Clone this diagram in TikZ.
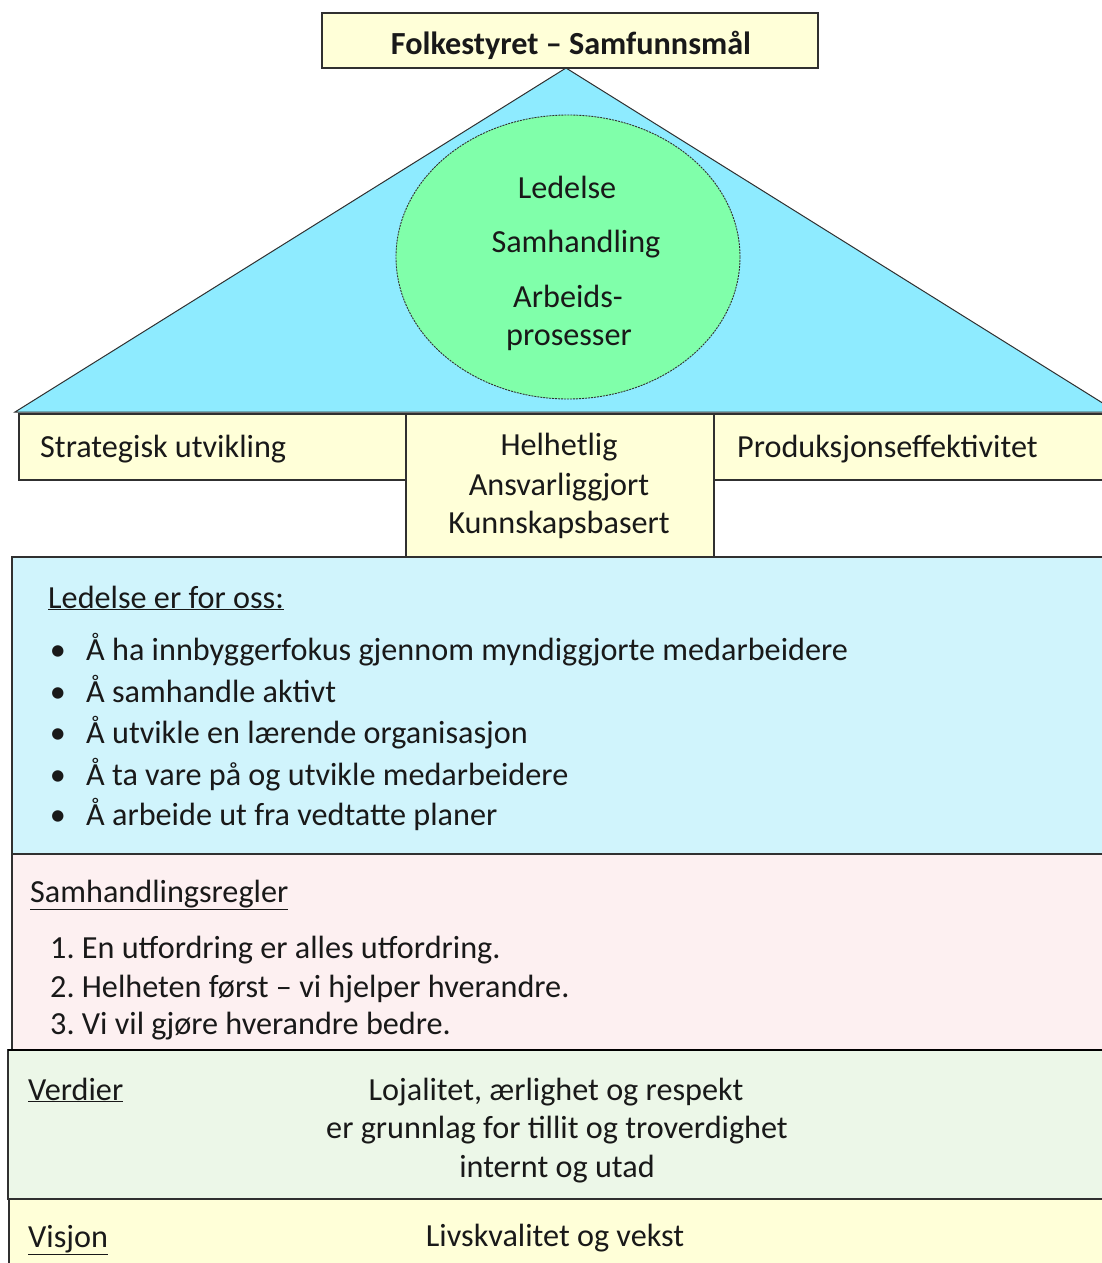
\documentclass[tikz,border=0pt]{standalone}
\usepackage{fontspec}
\setmainfont{Carlito}
\definecolor{cyanroof}{HTML}{8EEBFF}
\definecolor{greenell}{HTML}{80FFAA}
\definecolor{lightyel}{HTML}{FFFFD8}
\definecolor{lightblu}{HTML}{D0F4FC}
\definecolor{lightpink}{HTML}{FDF0F1}
\definecolor{lightgrn}{HTML}{ECF7E8}
\definecolor{edgecol}{HTML}{303030}
\begin{document}
\begin{tikzpicture}[x=1pt,y=-1pt,
  panel/.style={draw=edgecol, line width=1.3pt},
  txtl/.style={font=\fontsize{32.2}{38}\selectfont, inner sep=0pt, anchor=base west, text=black!90},
  txtc/.style={font=\fontsize{32.2}{38}\selectfont, inner sep=0pt, anchor=base, text=black!90},
]
\useasboundingbox (0,0) rectangle (1102,1263);
\clip (0,0) rectangle (1102,1263);
% roof
\coordinate (apex) at (566,68);
\coordinate (bl) at (15,412);
\coordinate (br) at (1117,412);
\draw[panel, fill=cyanroof, line width=1pt] (bl) -- (apex) -- (br) -- cycle;
% ellipse
\draw[fill=greenell, draw=edgecol, line width=0.9pt, dash pattern=on 2pt off 1pt] (568,257) ellipse [x radius=172, y radius=142];
\node[txtc] (e1) at (567,198) {Ledelse};
\node[txtc] (e2) at (576,252) {Samhandling};
\node[txtc] (e3) at (568,307) {Arbeids-};
\node[txtc] (e4) at (569,345) {prosesser};
% title
\draw[panel, fill=lightyel] (322,13) rectangle (818,68);
\node[txtc, font=\fontsize{32.2}{38}\selectfont\bfseries] (title) at (571,55) {Folkestyret – Samfunnsmål};
% pillars
\draw[panel, fill=lightyel] (19,414) rectangle (406,480);
\node[txtl] (strat) at (40,457) {Strategisk utvikling};
\draw[panel, fill=lightyel] (714,414) rectangle (1110,480);
\node[txtl] (prod) at (737,457) {Produksjonseffektivitet};
\draw[panel, fill=lightyel] (406,414) rectangle (714,557);
\node[txtc] (m1) at (559,455) {Helhetlig};
\node[txtc] (m2) at (559,495) {Ansvarliggjort};
\node[txtc] (m3) at (559,533) {Kunnskapsbasert};
% Ledelse box
\draw[panel, fill=lightblu] (12,557) rectangle (1110,854);
\node[txtl] (lh) at (48,608) {\underline{Ledelse er for oss:}};
\foreach \y/\t [count=\i] in {660/{Å ha innbyggerfokus gjennom myndiggjorte medarbeidere},
  702/{Å samhandle aktivt},
  743/{Å utvikle en lærende organisasjon},
  785/{Å ta vare på og utvikle medarbeidere},
  825/{Å arbeide ut fra vedtatte planer}}{
  \node[txtc] (b\i) at (58,\y) {•};
  \node[txtl] (l\i) at (86,\y) {\t};
}
% Samhandlingsregler
\draw[panel, fill=lightpink] (12,854) rectangle (1110,1050);
\node[txtl] (sh) at (30,902) {\underline{Samhandlingsregler}};
\node[txtl] (s1) at (50,958) {1.\ En utfordring er alles utfordring.};
\node[txtl] (s2) at (50,997) {2.\ Helheten først – vi hjelper hverandre.};
\node[txtl] (s3) at (50,1034) {3.\ Vi vil gjøre hverandre bedre.};
% Verdier
\draw[panel, fill=lightgrn] (8,1050) rectangle (1110,1199);
\draw[draw=black, line width=2pt] (8,1050) -- (1110,1050);
\node[txtl] (vh) at (28,1100) {\underline{Verdier}};
\node[txtc] (v1) at (556,1100) {Lojalitet, ærlighet og respekt};
\node[txtc] (v2) at (557,1138) {er grunnlag for tillit og troverdighet};
\node[txtc] (v3) at (557,1177) {internt og utad};
% Visjon
\draw[panel, fill=lightyel] (9,1199) rectangle (1110,1280);
\node[txtl] (vis) at (28,1247) {\underline{Visjon}};
\node[txtc] (visc) at (555,1246) {Livskvalitet og vekst};
\end{tikzpicture}
\end{document}
